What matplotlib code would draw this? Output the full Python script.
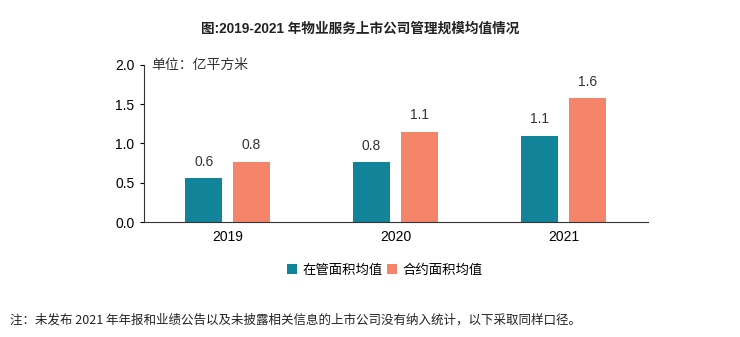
import matplotlib
matplotlib.use('Agg')
import matplotlib.pyplot as plt
import numpy as np

plt.rcParams['font.family'] = ['Noto Sans CJK SC', 'DejaVu Sans']

years = ['2019', '2020', '2021']
managed = [0.56, 0.76, 1.10]
contracted = [0.77, 1.15, 1.58]
managed_labels = ['0.6', '0.8', '1.1']
contracted_labels = ['0.8', '1.1', '1.6']

teal = '#12849A'
salmon = '#F4846A'

fig = plt.figure(figsize=(7.4, 3.37), dpi=100)
ax = fig.add_axes([0.1946, 0.3412, 0.681, 0.466])

x = np.arange(len(years))
w = 0.22
b1 = ax.bar(x - 0.145, managed, w, color=teal, label='在管面积均值')
b2 = ax.bar(x + 0.14, contracted, w, color=salmon, label='合约面积均值')

for rect, lab in zip(b1, managed_labels):
    ax.text(rect.get_x() + rect.get_width() / 2, rect.get_height() + 0.12, lab,
            ha='center', va='bottom', fontsize=10, color='#333333', family='Liberation Sans')
for rect, lab in zip(b2, contracted_labels):
    ax.text(rect.get_x() + rect.get_width() / 2, rect.get_height() + 0.12, lab,
            ha='center', va='bottom', fontsize=10, color='#333333', family='Liberation Sans')

ax.set_xlim(-0.5, 2.5)
ax.set_ylim(0, 2.0)
ax.set_yticks([0, 0.5, 1.0, 1.5, 2.0])
ax.set_yticklabels(['0.0', '0.5', '1.0', '1.5', '2.0'], family='Liberation Sans', fontsize=10)
ax.set_xticks(x)
ax.set_xticklabels(years, family='Liberation Sans', fontsize=10)
ax.tick_params(axis='x', length=0, pad=6)
ax.tick_params(axis='y', length=3, direction='out', pad=4)
for s in ['top', 'right']:
    ax.spines[s].set_visible(False)
ax.spines['left'].set_color('#333333')
ax.spines['bottom'].set_color('#333333')

ax.text(0.015, 1.0, '单位：亿平方米', transform=ax.transAxes, ha='left', va='center',
        fontsize=10, color='#333333')

fig.text(0.487, 0.915, '图:2019-2021 年物业服务上市公司管理规模均值情况', ha='center', va='center',
         fontsize=9.8, color='#222222', weight='bold',
         family=['Liberation Sans', 'Noto Sans CJK SC'])

fig.legend(handles=[b1, b2], loc='center', bbox_to_anchor=(0.52, 0.2), ncol=2, frameon=False,
           fontsize=9.6, handlelength=0.8, handleheight=0.8, handletextpad=0.4, columnspacing=0.3)

fig.text(0.014, 0.05, '注：未发布 2021 年年报和业绩公告以及未披露相关信息的上市公司没有纳入统计，以下采取同样口径。',
         ha='left', va='center', fontsize=9, color='#222222')

fig.savefig('out.png', dpi=100)
